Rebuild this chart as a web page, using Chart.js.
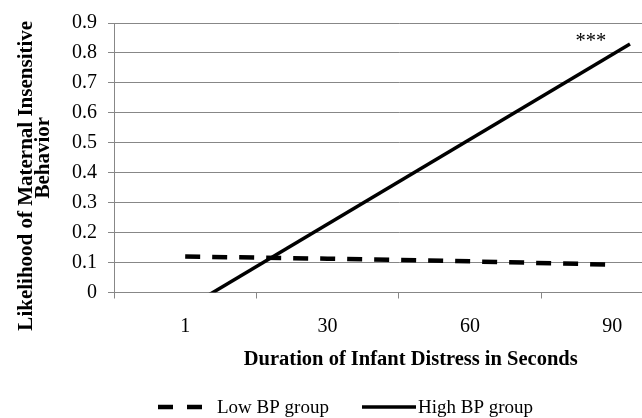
<!DOCTYPE html>
<html><head><meta charset="utf-8">
<script src="https://cdn.jsdelivr.net/npm/chart.js@4/dist/chart.umd.min.js"></script>
<style>
html,body{margin:0;padding:0;background:#fff;overflow:hidden;}
#wrap{width:642px;height:418px;overflow:hidden;position:relative;background:#fff;}
canvas{display:block;}
</style></head><body>
<div id="wrap"><canvas id="c" width="700" height="418"></canvas></div>
<script>
// ---- data ----
const categories = ['1', '30', '60', '90'];
const lowBPValues = [0.12, 0.113, 0.104, 0.093];
// High BP line: positions on the category axis (0 = "1", 3 = "90") and values
const highBPPositions = [0, 3.124];
const highBPValues = [-0.055, 0.83];
const seriesNames = ['Low BP group', 'High BP group'];
const yMin = 0, yMax = 0.9, yStep = 0.1;
const yTitle = ['Likelihood of Maternal Insensitive', 'Behavior'];
const xTitle = 'Duration of Infant Distress in Seconds';
const annotationText = '***';
const annotationPosition = [2.85, 0.82];

const GRAY = '#878787';
const SERIF = "'Liberation Serif', 'Times New Roman', serif";

// annotation, axis titles and legend drawn on the chart canvas
const decorPlugin = {
  id: 'decor',
  afterDatasetsDraw(chart) {
    const ctx = chart.ctx;
    const xs = chart.scales.x2, ys = chart.scales.y, area = chart.chartArea;
    ctx.save();
    ctx.fillStyle = '#000';
    // *** annotation
    ctx.font = '20.5px ' + SERIF;
    ctx.textAlign = 'center';
    ctx.textBaseline = 'alphabetic';
    ctx.fillText(annotationText, xs.getPixelForValue(annotationPosition[0]), ys.getPixelForValue(annotationPosition[1]));

    // x axis title
    ctx.font = 'bold 20.5px ' + SERIF;
    ctx.fillText(xTitle, (area.left + area.right) / 2 + 12, 364.5);

    // y axis title (rotated)
    ctx.font = 'bold 21px ' + SERIF;
    const mid = area.top + (area.bottom - area.top) / 2;
    const yCenters = [mid + 18, mid];
    const yBaselines = [31.5, 49];
    yTitle.forEach((t, i) => {
      ctx.save();
      ctx.translate(yBaselines[i], yCenters[i]);
      ctx.rotate(-Math.PI / 2);
      ctx.fillText(t, 0, 0);
      ctx.restore();
    });

    // legend
    const ds = chart.data.datasets;
    const legendY = 407;
    const items = [
      {x0: 158, x1: 202, tx: 217},
      {x0: 362, x1: 416, tx: 418}
    ];
    ctx.font = '19px ' + SERIF;
    ctx.textAlign = 'left';
    ctx.textBaseline = 'alphabetic';
    items.forEach((it, i) => {
      const d = ds[i];
      ctx.save();
      ctx.strokeStyle = d.borderColor;
      ctx.lineWidth = d.borderWidth;
      ctx.lineCap = 'butt';
      ctx.setLineDash(d.borderDash ? [15, 14] : []);
      ctx.beginPath();
      ctx.moveTo(it.x0, legendY);
      ctx.lineTo(it.x1, legendY);
      ctx.stroke();
      ctx.restore();
      ctx.fillText(d.label, it.tx, legendY + 6);
    });
    ctx.restore();
  }
};

new Chart(document.getElementById('c'), {
  type: 'line',
  data: {
    labels: categories,
    datasets: [
      {
        label: seriesNames[0],
        data: lowBPValues,
        xAxisID: 'x',
        borderColor: '#000',
        backgroundColor: '#000',
        borderWidth: 4.5,
        borderDash: [15, 12],
        pointRadius: 0,
        tension: 0,
        fill: false
      },
      {
        label: seriesNames[1],
        data: highBPPositions.map((p, i) => ({x: p, y: highBPValues[i]})),
        xAxisID: 'x2',
        borderColor: '#000',
        backgroundColor: '#000',
        borderWidth: 3.5,
        pointRadius: 0,
        tension: 0,
        fill: false,
        clip: 0
      }
    ]
  },
  options: {
    responsive: false,
    animation: false,
    devicePixelRatio: 1,
    layout: { padding: { left: 0, right: 16.5, top: 20.5, bottom: 45.5 } },
    plugins: {
      tooltip: { enabled: false },
      legend: { display: false }
    },
    scales: {
      x: {
        type: 'category',
        offset: true,
        grid: { offset: true, drawOnChartArea: false, color: GRAY, tickLength: 6, tickColor: GRAY },
        border: { color: GRAY },
        ticks: { color: '#000', padding: 16.5, font: { family: SERIF, size: 20 }, maxRotation: 0 },
        afterFit(s) { s.height = 80; }
      },
      x2: {
        type: 'linear',
        display: false,
        min: -0.5,
        max: 3.5
      },
      y: {
        min: yMin,
        max: yMax,
        ticks: { stepSize: yStep, color: '#000', padding: 11, font: { family: SERIF, size: 20 } },
        grid: { color: GRAY, tickLength: 6, tickColor: GRAY },
        border: { color: GRAY },
        afterFit(s) { s.width = 114; }
      }
    }
  },
  plugins: [decorPlugin]
});
</script>
</body></html>
